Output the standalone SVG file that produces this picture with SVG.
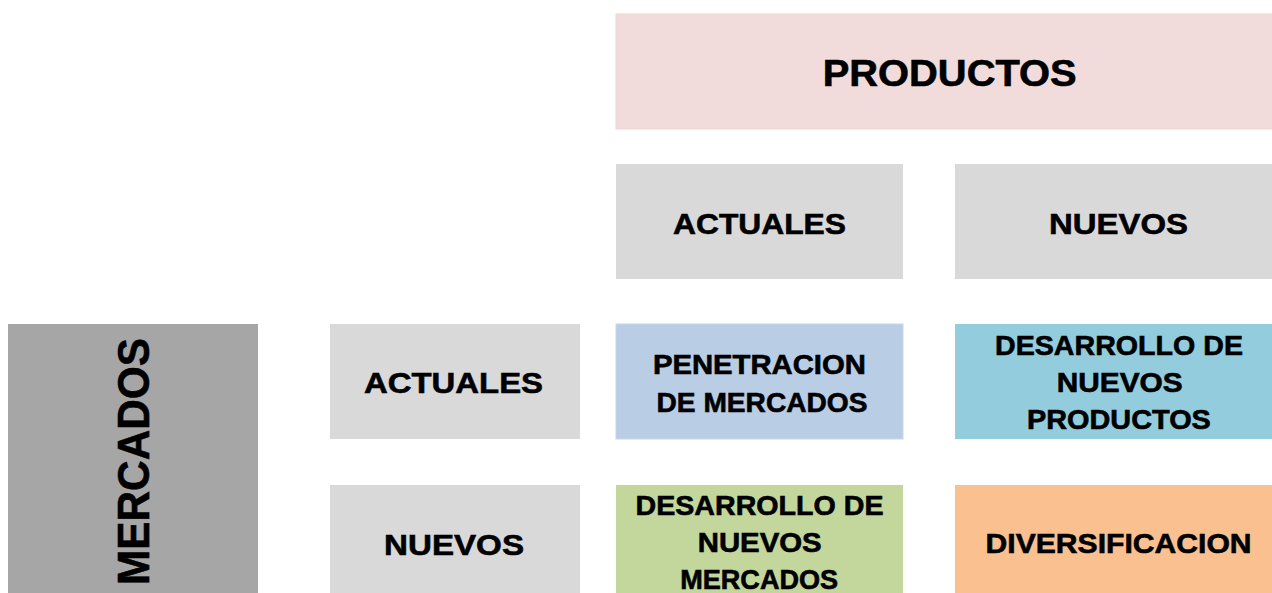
<svg xmlns="http://www.w3.org/2000/svg" width="1272" height="593" viewBox="0 0 1272 593">
<style>
text{font-family:"Liberation Sans",Arial,sans-serif;font-weight:bold;fill:#000;stroke:#000;stroke-width:0.6px;text-anchor:middle}
.l{font-size:30px}
.m{font-size:27px}
</style>
<rect width="1272" height="593" fill="#fff"/>
<g id="productos"><rect x="616" y="14" width="666" height="115" fill="#F2DCDB" stroke="#EED5D4" stroke-width="1"/>
<text x="949.7" y="86" style="font-size:37px" textLength="254" lengthAdjust="spacingAndGlyphs">PRODUCTOS</text></g>
<g id="prod-actuales"><rect x="616" y="164" width="287" height="115" fill="#D9D9D9"/>
<text class="l" x="759.5" y="234" textLength="173" lengthAdjust="spacingAndGlyphs">ACTUALES</text></g>
<g id="prod-nuevos"><rect x="955" y="164" width="327" height="115" fill="#D9D9D9"/>
<text class="l" x="1118.5" y="234" textLength="139" lengthAdjust="spacingAndGlyphs">NUEVOS</text></g>
<g id="mercados"><rect x="8" y="324" width="250" height="279" fill="#A6A6A6"/>
<text transform="translate(148.5,461.5) rotate(-90)" x="0" y="0" style="font-size:44px" textLength="247" lengthAdjust="spacingAndGlyphs">MERCADOS</text></g>
<g id="merc-actuales"><rect x="330" y="324" width="250" height="115" fill="#D9D9D9"/>
<text class="l" x="453.5" y="393" textLength="179" lengthAdjust="spacingAndGlyphs">ACTUALES</text></g>
<g id="merc-nuevos"><rect x="330" y="485" width="250" height="118" fill="#D9D9D9"/>
<text class="l" x="454" y="555" textLength="140" lengthAdjust="spacingAndGlyphs">NUEVOS</text></g>
<g id="penetracion"><rect x="616" y="324" width="287" height="115" fill="#B9CDE5" stroke="#C6D7EB" stroke-width="1"/>
<text class="m" x="759.4" y="374" textLength="213" lengthAdjust="spacingAndGlyphs">PENETRACION</text>
<text class="m" x="762" y="411.5" textLength="211" lengthAdjust="spacingAndGlyphs">DE MERCADOS</text></g>
<g id="desarrollo-productos"><rect x="955" y="324" width="327" height="115" fill="#93CDDD"/>
<text class="m" x="1119" y="355" textLength="248" lengthAdjust="spacingAndGlyphs">DESARROLLO DE</text>
<text class="m" x="1119.7" y="392" textLength="126" lengthAdjust="spacingAndGlyphs">NUEVOS</text>
<text class="m" x="1118.9" y="429" textLength="184" lengthAdjust="spacingAndGlyphs">PRODUCTOS</text></g>
<g id="desarrollo-mercados"><rect x="616" y="485" width="287" height="118" fill="#C3D69B"/>
<text class="m" x="759.5" y="514.7" textLength="248" lengthAdjust="spacingAndGlyphs">DESARROLLO DE</text>
<text class="m" x="759.7" y="552" textLength="124" lengthAdjust="spacingAndGlyphs">NUEVOS</text>
<text class="m" x="759.2" y="589" textLength="158" lengthAdjust="spacingAndGlyphs">MERCADOS</text></g>
<g id="diversificacion"><rect x="955" y="485" width="327" height="118" fill="#FAC090"/>
<text class="m" x="1118.6" y="553" style="font-size:28px" textLength="266" lengthAdjust="spacingAndGlyphs">DIVERSIFICACION</text></g>
<g id="connectors"></g>
</svg>
